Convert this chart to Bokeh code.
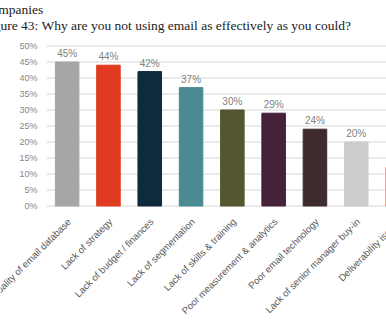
import math
from bokeh.plotting import figure
from bokeh.models import Range1d, ColumnDataSource, Title
from bokeh.embed import file_html
from bokeh.resources import INLINE
from bokeh.core.properties import value

header_text = "Companies"
title_text = "Figure 43: Why are you not using email as effectively as you could?"
categories = [
    "Quality of email database",
    "Lack of strategy",
    "Lack of budget / finances",
    "Lack of segmentation",
    "Lack of skills & training",
    "Poor measurement & analytics",
    "Poor email technology",
    "Lack of senior manager buy-in",
    "Deliverability issues",
]
values = [45, 44, 42, 37, 30, 29, 24, 20, 12]
colors = ["#a6a6a6", "#e03a22", "#0f2a3a", "#4b8a93", "#55552f",
          "#45213a", "#3d2b2e", "#cccccc", "#f08a75"]
y_ticks = [0, 5, 10, 15, 20, 25, 30, 35, 40, 45, 50]

W, H = 386, 322
TOP = 40                      # height of the heading band
PX_X = 41.3                   # pixels per category
PX_Y = 3.2                    # pixels per percentage point
PLOT_LEFT = 46                # where the bar area begins
ZERO_Y = 205.5                # canvas row of the 0% line

# the source image is a crop: the bar area starts at PLOT_LEFT and runs past the right edge
x0 = -0.5 - PLOT_LEFT / PX_X
x1 = -0.5 + (W - PLOT_LEFT) / PX_X
y1 = (ZERO_Y - TOP) / PX_Y
y0 = -(H - ZERO_Y) / PX_Y

xs = list(range(len(categories)))
bars = ColumnDataSource(dict(x=xs, top=values, color=colors, name=categories))
shown = len(categories) - 1   # the last bar's value label lies outside the crop
vlabels = ColumnDataSource(dict(x=xs[:shown], top=values[:shown],
                                label=[f"{v}%" for v in values[:shown]]))
ticks = ColumnDataSource(dict(y=y_ticks, label=[f"{t}%" for t in y_ticks]))

p = figure(width=W, height=H, output_backend="svg", toolbar_location=None,
           x_range=Range1d(x0, x1), y_range=Range1d(y0, y1),
           x_axis_location=None, y_axis_location=None,
           min_border_left=0, min_border_right=0,
           min_border_top=TOP, min_border_bottom=0)
p.outline_line_color = None
p.background_fill_color = "white"
p.border_fill_color = "white"
p.grid.visible = False

# horizontal grid lines at the tick values
p.segment(x0=-0.5, x1=x1, y0="y", y1="y", source=ticks,
          line_color="#d6d6d6", line_width=1)

# y tick labels
p.text(x=-0.5, y="y", text="label", source=ticks, x_offset=-9,
       text_align="right", text_baseline="middle",
       text_font=value("Liberation Sans"), text_font_size="9px",
       text_color="#858585")

# bars and value labels
p.vbar(x="x", top="top", bottom=0, width=0.57, color="color", source=bars)
p.text(x="x", y="top", text="label", source=vlabels, text_align="center",
       text_baseline="bottom", y_offset=-3, text_font=value("Liberation Sans"),
       text_font_size="10px", text_color="#7f7f7f")

# rotated category labels
p.text(x="x", y=0, text="name", source=bars, angle=math.pi / 4,
       text_align="right", text_baseline="middle", x_offset=2, y_offset=14,
       text_font=value("Liberation Sans"), text_font_size="9.6px",
       text_color="#5a5a5a")

# heading lines (partly cut off at the left edge, as in the source crop)
p.add_layout(Title(text=header_text + "\n" + title_text + "\n",
                   align="left", offset=-18, standoff=-18,
                   text_line_height=1.07,
                   text_font="Liberation Serif", text_font_size="13.5px",
                   text_font_style="normal", text_color="#222222"), "above")

open("out.html", "w").write(file_html(p, INLINE))
